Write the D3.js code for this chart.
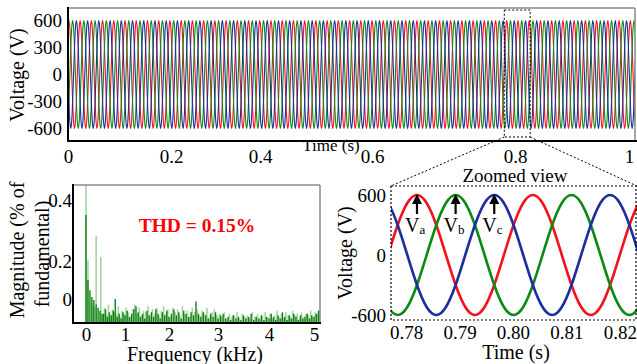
<!DOCTYPE html>
<html>
<head>
<meta charset="utf-8">
<script src="https://cdn.jsdelivr.net/npm/d3@7"></script>
<style>
  html, body { margin: 0; padding: 0; background: #fff; }
  svg { display: block; }
  svg text { font-family: "Liberation Serif", "Times New Roman", serif; }
</style>
</head>
<body>
<div id="chart"></div>
<script>
const cycleShape = [0, 300, 520, 600, 520, 300, 0, -300, -520, -600, -520, -300];
const phaseNames = ['a', 'b', 'c'];
const phaseLag = [0, 4, 8];            // samples of cycleShape, 120 deg apart
const phaseColors = ['#f2141c', '#0d8a16', '#1d2f9a'];

// top plot: 0 - 1 s
const topTicksX = [0, 0.2, 0.4, 0.6, 0.8, 1];
const topTicksY = [-600, -300, 0, 300, 600];
const topPeriod = 0.02;
const topStart = 0.0166 - 0.02;        // a rising zero crossing of Va
const topCycles = 53;

// zoomed view
const zoomTicksX = [0.78, 0.79, 0.80, 0.81, 0.82];
const zoomTicksY = [-600, 0, 600];
const zoomPeriod = 0.0217;
const zoomStart = 0.776595 - 0.0217;
const zoomCycles = 4;

// spectrum (% of fundamental)
const fftTicksX = [0, 1, 2, 3, 4, 5];
const fftTicksY = [0, 0.2, 0.4];
const fftLowLight = [[0, 1.2], [0.05, 0.205], [0.26, 0.284], [0.38, 0.215], [0.15, 0.06], [0.21, 0.05]];
const fftLowDark = [[0, 0.352], [0.05, 0.14], [0.1, 0.107], [0.15, 0.085], [0.2, 0.075], [0.26, 0.06], [0.31, 0.05], [0.36, 0.04], [0.41, 0.03]];
const fftBinStart = 0.45;
const fftBinStep = 0.05;
const fftDark = [0.03, 0.045, 0.02, 0.035, 0.025, 0.04, 0.078, 0.02, 0.03, 0.015, 0.035, 0.025,
  0.04, 0.02, 0.03, 0.045, 0.055, 0.035, 0.02, 0.03, 0.015, 0.04, 0.025, 0.035, 0.02, 0.045,
  0.03, 0.015, 0.035, 0.025, 0.04, 0.02, 0.03, 0.045, 0.025, 0.035, 0.015, 0.04, 0.03, 0.02,
  0.035, 0.025, 0.07, 0.03, 0.02, 0.035, 0.025, 0.015, 0.03, 0.02, 0.035, 0.015, 0.025, 0.03,
  0.015, 0.02, 0.01, 0.025, 0.015, 0.02, 0.01, 0.025, 0.015, 0.02, 0.03, 0.01, 0.02, 0.015,
  0.025, 0.01, 0.02, 0.015, 0.03, 0.02, 0.01, 0.025, 0.015, 0.035, 0.02, 0.01, 0.025, 0.015,
  0.03, 0.02, 0.01, 0.025, 0.015, 0.02, 0.03, 0.015, 0.025, 0.02, 0.03, 0.04];
const fftLight = [0.05, 0.03, 0.06, 0.025, 0.045, 0.035, 0.03, 0.055, 0.02, 0.04, 0.03, 0.05,
  0.035, 0.02, 0.045, 0.06, 0.03, 0.05, 0.025, 0.04, 0.035, 0.055, 0.02, 0.045, 0.03, 0.05,
  0.025, 0.04, 0.055, 0.03, 0.045, 0.02, 0.05, 0.035, 0.045, 0.025, 0.055, 0.03, 0.04, 0.02,
  0.05, 0.035, 0.045, 0.025, 0.04, 0.03, 0.05, 0.02, 0.035, 0.045, 0.025, 0.03, 0.02, 0.035,
  0.015, 0.03, 0.02, 0.025, 0.035, 0.015, 0.03, 0.02, 0.025, 0.015, 0.035, 0.02, 0.03, 0.015,
  0.025, 0.035, 0.02, 0.03, 0.015, 0.025, 0.04, 0.02, 0.03, 0.015, 0.035, 0.025, 0.02, 0.04,
  0.025, 0.03, 0.015, 0.035, 0.02, 0.03, 0.025, 0.04, 0.02, 0.035, 0.03, 0.045];

const width = 637, height = 364;
const serif = '"Liberation Serif", "Times New Roman", serif';
const svg = d3.select('#chart').append('svg')
  .attr('width', width).attr('height', height)
  .attr('viewBox', `0 0 ${width} ${height}`)
  .attr('font-family', serif);

const fmtPlain = d => String(d);

// d3 axes put a sans-serif font on the group; use the page serif instead
function plainAxis(g) {
  g.attr('font-family', serif).attr('font-size', 19);
  g.select('.domain').remove();
  g.selectAll('text').attr('font-family', serif).attr('font-size', 19).attr('fill', '#000');
}

// points of one phase: cycleShape repeated, shifted by its lag
function phasePoints(p, start, period, cycles) {
  const pts = [];
  const t0 = start + phaseLag[p] / 12 * period;
  for (let k = -1; k <= cycles; k++) {
    cycleShape.forEach((v, j) => pts.push([t0 + (k + j / 12) * period, v]));
  }
  return pts;
}

// ---------- top: full run ----------
const xTop = d3.scaleLinear().domain([0, 1.01]).range([68, 635]);
const yTop = d3.scaleLinear().domain([-740, 740]).range([141, 8]);
// tick labels sit where the original figure printed them
const xTopAxis = d3.scaleLinear().domain(topTicksX).range([68, 171, 260, 372, 515, 629]);

svg.append('clipPath').attr('id', 'clipTop')
  .append('rect').attr('x', 68).attr('y', 8).attr('width', 567).attr('height', 133);

const topLine = d3.line().x(d => xTop(d[0])).y(d => yTop(d[1])).curve(d3.curveNatural);
const gTop = svg.append('g').attr('clip-path', 'url(#clipTop)');
phaseNames.forEach((n, p) => {
  gTop.append('path')
    .attr('d', topLine(phasePoints(p, topStart, topPeriod, topCycles)))
    .attr('fill', 'none')
    .attr('stroke', phaseColors[p])
    .attr('stroke-width', 1.1);
});

svg.append('line').attr('x1', 68).attr('x2', 635).attr('y1', 8).attr('y2', 8).attr('stroke', '#8a8a8a').attr('stroke-width', 1.5);
svg.append('line').attr('x1', 635).attr('x2', 635).attr('y1', 8).attr('y2', 141).attr('stroke', '#8a8a8a').attr('stroke-width', 1.5);
svg.append('line').attr('x1', 68).attr('x2', 68).attr('y1', 7).attr('y2', 142).attr('stroke', '#000').attr('stroke-width', 2);
svg.append('line').attr('x1', 67).attr('x2', 637).attr('y1', 141).attr('y2', 141).attr('stroke', '#000').attr('stroke-width', 2);

svg.append('g').attr('transform', 'translate(0,146)')
  .call(d3.axisBottom(xTopAxis).tickValues(topTicksX).tickSize(0).tickFormat(fmtPlain))
  .call(plainAxis);

svg.append('g').attr('transform', 'translate(67,0)')
  .call(d3.axisLeft(yTop).tickValues(topTicksY).tickSize(0).tickPadding(5).tickFormat(fmtPlain))
  .call(plainAxis);

svg.append('text').attr('transform', 'translate(24,75) rotate(-90)')
  .attr('text-anchor', 'middle').attr('font-size', 20).text('Voltage (V)');
svg.append('text').attr('x', 331).attr('y', 151)
  .attr('text-anchor', 'middle').attr('font-size', 17).text('Time (s)');

// ---------- zoomed view ----------
const xZoom = d3.scaleLinear().domain([0.777154, 0.823221]).range([391, 637]);
const yZoom = d3.scaleLinear().domain([-650, 690]).range([320, 186]);

// dotted marker box on the top plot and the lines down to the zoom frame
const boxL = xTop(xZoom.domain()[0]), boxR = xTop(xZoom.domain()[1]);
svg.append('rect').attr('x', boxL).attr('y', 10).attr('width', boxR - boxL).attr('height', 127)
  .attr('fill', 'none').attr('stroke', '#000').attr('stroke-width', 1).attr('stroke-dasharray', '2,2');
svg.append('line').attr('x1', boxL).attr('y1', 137).attr('x2', 391).attr('y2', 186)
  .attr('stroke', '#000').attr('stroke-width', 1).attr('stroke-dasharray', '2,2');
svg.append('line').attr('x1', boxR).attr('y1', 137).attr('x2', 637).attr('y2', 186)
  .attr('stroke', '#000').attr('stroke-width', 1).attr('stroke-dasharray', '2,2');

svg.append('clipPath').attr('id', 'clipZoom')
  .append('rect').attr('x', 391).attr('y', 186).attr('width', 246).attr('height', 134);

const zoomLine = d3.line().x(d => xZoom(d[0])).y(d => yZoom(d[1])).curve(d3.curveNatural);
const gZoom = svg.append('g').attr('clip-path', 'url(#clipZoom)');
phaseNames.forEach((n, p) => {
  gZoom.append('path')
    .attr('d', zoomLine(phasePoints(p, zoomStart, zoomPeriod, zoomCycles)))
    .attr('fill', 'none')
    .attr('stroke', phaseColors[p])
    .attr('stroke-width', 2.6);
});

svg.append('rect').attr('x', 391).attr('y', 186).attr('width', 245).attr('height', 134)
  .attr('fill', 'none').attr('stroke', '#000').attr('stroke-width', 1.2).attr('stroke-dasharray', '2,2');

// arrows at the first peak of each phase
phaseNames.forEach((n, p) => {
  const tPeak = zoomStart + zoomPeriod + (phaseLag[p] + 3) / 12 * zoomPeriod;
  const x = xZoom(tPeak), yTip = yZoom(600) - 1;
  svg.append('line').attr('x1', x).attr('x2', x).attr('y1', yTip + 6).attr('y2', yTip + 20)
    .attr('stroke', '#000').attr('stroke-width', 2.2);
  svg.append('path')
    .attr('d', `M${x},${yTip} L${x - 5},${yTip + 10} L${x + 5},${yTip + 10} Z`)
    .attr('fill', '#000');
  const lbl = svg.append('text').attr('x', x - 12).attr('y', 232).attr('font-size', 20).text('V');
  lbl.append('tspan').attr('font-size', 13).attr('dy', 2).text(n);
});

svg.append('g').attr('transform', 'translate(0,332)')
  .call(d3.axisBottom(xZoom).tickValues(zoomTicksX).tickSize(0).tickPadding(0).tickFormat(d3.format('.2f')))
  .call(plainAxis)
  .call(g => g.selectAll('text').attr('dy', '0.35em'));

svg.append('g').attr('transform', 'translate(390,0)')
  .call(d3.axisLeft(yZoom).tickValues(zoomTicksY).tickSize(0).tickPadding(4).tickFormat(fmtPlain))
  .call(plainAxis);

svg.append('text').attr('transform', 'translate(352,253) rotate(-90)')
  .attr('text-anchor', 'middle').attr('font-size', 20).text('Voltage (V)');
svg.append('text').attr('x', 516).attr('y', 359)
  .attr('text-anchor', 'middle').attr('font-size', 20).text('Time (s)');
svg.append('text').attr('x', 515).attr('y', 182)
  .attr('text-anchor', 'middle').attr('font-size', 19).text('Zoomed view');

// ---------- spectrum ----------
// the kHz labels are unevenly printed in the original; scale follows them
const xFft = d3.scaleLinear().domain(fftTicksX).range([86, 125, 169, 218, 269, 314]);
const yFft = d3.scaleLinear().domain([0, 0.45]).range([323, 185]);

svg.append('clipPath').attr('id', 'clipFft')
  .append('rect').attr('x', 74).attr('y', 185).attr('width', 246).attr('height', 138);
const gFft = svg.append('g').attr('clip-path', 'url(#clipFft)');

const lightBars = fftLowLight.concat(fftLight.map((v, i) => [fftBinStart + 0.025 + i * fftBinStep, v]));
const darkBars = fftLowDark.concat(fftDark.map((v, i) => [fftBinStart + i * fftBinStep, v]));

gFft.selectAll('line.light').data(lightBars).join('line')
  .attr('class', 'light')
  .attr('x1', d => xFft(d[0])).attr('x2', d => xFft(d[0]))
  .attr('y1', yFft(0)).attr('y2', d => yFft(d[1]))
  .attr('stroke', '#a3d4a3').attr('stroke-width', 1.6);
gFft.selectAll('line.dark').data(darkBars).join('line')
  .attr('class', 'dark')
  .attr('x1', d => xFft(d[0])).attr('x2', d => xFft(d[0]))
  .attr('y1', yFft(0)).attr('y2', d => yFft(d[1]))
  .attr('stroke', '#0f800f').attr('stroke-width', 1.4);

svg.append('line').attr('x1', 73).attr('x2', 320).attr('y1', 185).attr('y2', 185).attr('stroke', '#8a8a8a').attr('stroke-width', 1.5);
svg.append('line').attr('x1', 320).attr('x2', 320).attr('y1', 185).attr('y2', 323).attr('stroke', '#8a8a8a').attr('stroke-width', 1.5);
svg.append('line').attr('x1', 73).attr('x2', 73).attr('y1', 184).attr('y2', 324).attr('stroke', '#000').attr('stroke-width', 2);
svg.append('line').attr('x1', 72).attr('x2', 321).attr('y1', 323).attr('y2', 323).attr('stroke', '#000').attr('stroke-width', 2);

svg.append('g').attr('transform', 'translate(0,334)')
  .call(d3.axisBottom(xFft).tickValues(fftTicksX).tickSize(0).tickPadding(0).tickFormat(fmtPlain))
  .call(plainAxis)
  .call(g => g.selectAll('text').attr('dy', '0.35em'));

// the "0" label is printed above the baseline in the original
svg.append('g').attr('transform', 'translate(73,0)')
  .call(d3.axisLeft(yFft).tickValues(fftTicksY).tickSize(0).tickPadding(1).tickFormat(fmtPlain))
  .call(plainAxis)
  .call(g => g.selectAll('.tick').filter(d => d === 0).attr('transform', `translate(0,${yFft(0) - 23})`));

svg.append('text').attr('transform', 'translate(24,250) rotate(-90)')
  .attr('text-anchor', 'middle').attr('font-size', 20).text('Magnitude (% of');
svg.append('text').attr('transform', 'translate(49,254) rotate(-90)')
  .attr('text-anchor', 'middle').attr('font-size', 20).text('fundamental)');
svg.append('text').attr('x', 195).attr('y', 361)
  .attr('text-anchor', 'middle').attr('font-size', 20).text('Frequency (kHz)');
svg.append('text').attr('x', 197).attr('y', 232)
  .attr('text-anchor', 'middle').attr('font-size', 19.5).attr('font-weight', 'bold')
  .attr('fill', '#ff0000').text('THD = 0.15%');
</script>
</body>
</html>
